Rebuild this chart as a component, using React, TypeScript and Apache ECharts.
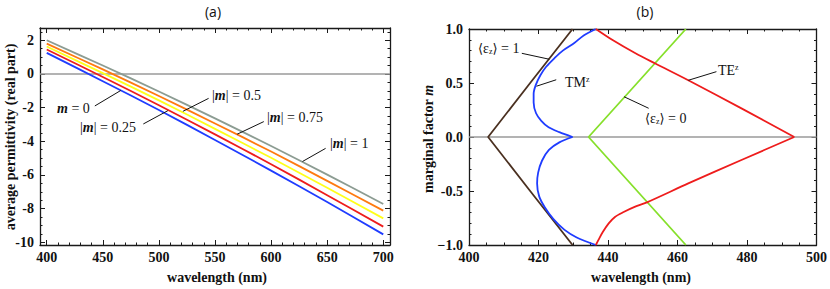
import React, { useEffect, useRef } from "react";
import * as echarts from "echarts";

// ---------- Panel (a) data ----------
const wavelengthsA = [400, 450, 500, 550, 600, 650, 700];
const epsM0 = [1.25, -0.43, -2.14, -3.92, -5.74, -7.61, -9.53];
const epsM025 = [1.45, -0.18, -1.86, -3.59, -5.36, -7.2, -9.07];
const epsM05 = [1.63, 0.05, -1.57, -3.26, -4.98, -6.76, -8.58];
const epsM075 = [1.8, 0.27, -1.31, -2.94, -4.61, -6.35, -8.12];
const epsM1 = [2.0, 0.5, -1.04, -2.64, -4.28, -5.98, -7.72];

const xTicksA = [400, 450, 500, 550, 600, 650, 700];
const yTicksA = [-10, -8, -6, -4, -2, 0, 2];

// ---------- Panel (b) data: [wavelength, m] ----------
const epsOneCurve = [[429.8, 1], [417.6, 0.5], [405.5, 0], [417.6, -0.5], [429.8, -1]];
const epsZeroCurve = [[462.4, 1], [448.4, 0.5], [434.4, 0], [448.4, -0.5], [462.4, -1]];
const tmUpper = [
  [436.5, 1], [433, 0.94], [430.3, 0.87], [427, 0.8], [424.6, 0.73], [422.2, 0.65],
  [420.5, 0.57], [419.2, 0.48], [418.6, 0.4], [418.6, 0.32], [419.3, 0.22], [420.8, 0.15],
  [422.9, 0.09], [426, 0.045], [429.8, 0],
];
const tmLower = [
  [429.8, 0], [426, -0.05], [423, -0.12], [421, -0.22], [419.9, -0.33], [419.6, -0.43],
  [420.2, -0.55], [421.8, -0.65], [424.3, -0.76], [427.5, -0.86], [431, -0.93], [436.5, -1],
];
const teUpper = [
  [436.5, 1], [441.2, 0.9], [447.9, 0.775], [453.6, 0.68], [463.1, 0.525], [478.4, 0.265], [493.6, 0],
];
const teLower = [
  [493.6, 0], [478.4, -0.213], [463.1, -0.43], [451.2, -0.605], [447.5, -0.65], [444.5, -0.695],
  [442, -0.74], [440.2, -0.8], [438.5, -0.88], [437.3, -0.95], [436.5, -1],
];

const xTicksB = [400, 420, 440, 460, 480, 500];
const yTicksB = [-1, -0.5, 0, 0.5, 1];
const yLabelsB = ["\u22121.0", "-0.5", "0.0", "0.5", "1.0"];

// leader lines (data coords)
const leadersA = [
  [[442.9, -1.9], [466, -0.98]],
  [[486.1, -2.97], [508, -2.18]],
  [[544.3, -1.45], [521.4, -2.22]],
  [[593.5, -2.83], [569.7, -3.58]],
  [[648.6, -4.42], [628, -5.2]],
];
const leadersB = [
  [[415.2, 0.775], [423.1, 0.72]],
  [[425.1, 0.53], [419.4, 0.47]],
  [[451.7, 0.266], [444.6, 0.373]],
  [[471.2, 0.605], [463.1, 0.525]],
];

const SERIF = "Liberation Serif";
const SANS = "Open Sans";
const FRAME = "#1a1a1a";

function minorBetween(majors: number[], step: number, lo: number, hi: number) {
  const out: number[] = [];
  const start = Math.ceil(lo / step) * step;
  for (let v = start; v <= hi + 1e-9; v += step) {
    const r = Math.round(v * 1000) / 1000;
    if (!majors.some((m) => Math.abs(m - r) < 1e-6)) out.push(r);
  }
  return out;
}

export default function App() {
  const ref = useRef<HTMLDivElement>(null);
  useEffect(() => {
    document.body.style.margin = "0";
    if (!ref.current) return;
    const chart = echarts.init(ref.current, undefined, { renderer: "svg" });

    const xMinA = 394, xMaxA = 706, yMinA = -10.16, yMaxA = 2.73;
    const xMinorA = minorBetween(xTicksA, 10, 400, 700);
    const yMinorA = minorBetween(yTicksA, 0.5, -10, 2.5);

    const labelStyle = { fontFamily: SERIF, fontSize: 14, fontWeight: "bold", color: "#111" };

    const mkX = (grid: number, pos: string, min: number, max: number, major: boolean, showLine: boolean, labels: boolean, ticks: number[]) => ({
      type: "value", gridIndex: grid, position: pos, min, max,
      axisLine: { show: showLine, onZero: false, lineStyle: { color: FRAME, width: 1.3 } },
      axisTick: { show: true, inside: true, length: major ? 5 : 2.5, customValues: ticks, lineStyle: { color: FRAME, width: 1 } },
      axisLabel: labels ? { show: true, customValues: ticks, margin: 5, ...labelStyle } : { show: false },
      splitLine: { show: false },
    });

    const xAxes: any[] = [
      mkX(0, "bottom", xMinA, xMaxA, true, true, true, xTicksA),
      mkX(0, "bottom", xMinA, xMaxA, false, false, false, xMinorA),
      mkX(0, "top", xMinA, xMaxA, true, true, false, xTicksA),
      mkX(0, "top", xMinA, xMaxA, false, false, false, xMinorA),
    ];
    const yAxes: any[] = [
      { ...mkX(0, "left", yMinA, yMaxA, true, true, true, yTicksA), axisLabel: { show: true, customValues: yTicksA, margin: 6, ...labelStyle, formatter: (v: number) => String(v) } },
      mkX(0, "left", yMinA, yMaxA, false, false, false, yMinorA),
      mkX(0, "right", yMinA, yMaxA, true, true, false, yTicksA),
      mkX(0, "right", yMinA, yMaxA, false, false, false, yMinorA),
    ];
    const mkB = (pos: string, min: number, max: number, interval: number, minorSplit: number, labels: any) => ({
      type: "value", gridIndex: 1, position: pos, min, max, interval,
      axisLine: { show: true, onZero: false, lineStyle: { color: FRAME, width: 1.3 } },
      axisTick: { show: true, inside: true, length: 5, lineStyle: { color: FRAME, width: 1 } },
      minorTick: { show: true, splitNumber: minorSplit, length: 2.5, lineStyle: { color: FRAME, width: 1 } },
      axisLabel: labels,
      splitLine: { show: false },
      minorSplitLine: { show: false },
    });
    xAxes.push(mkB("bottom", xTicksB[0], xTicksB[xTicksB.length - 1], 20, 4, { show: true, margin: 5, ...labelStyle }));
    xAxes.push(mkB("top", xTicksB[0], xTicksB[xTicksB.length - 1], 20, 4, { show: false }));
    yAxes.push(mkB("left", yTicksB[0], yTicksB[yTicksB.length - 1], 0.5, 5, {
      show: true, margin: 6, ...labelStyle,
      formatter: (v: number) => { const i = yTicksB.findIndex((t) => Math.abs(t - v) < 1e-6); return i >= 0 ? yLabelsB[i] : ""; },
    }));
    yAxes.push(mkB("right", yTicksB[0], yTicksB[yTicksB.length - 1], 0.5, 5, { show: false }));

    const lineA = (name: string, vals: number[], color: string) => ({
      type: "line", name, xAxisIndex: 0, yAxisIndex: 0, symbol: "none", smooth: 0.3, silent: true, z: 3,
      data: wavelengthsA.map((w, i) => [w, vals[i]]),
      lineStyle: { color, width: 1.8 },
    });
    const lineB = (name: string, data: number[][], color: string, smooth: number) => ({
      type: "line", name, xAxisIndex: 4, yAxisIndex: 4, symbol: "none", smooth, silent: true, z: 3,
      data, lineStyle: { color, width: 1.8 },
    });
    const leader = (pts: number[][], xi: number, yi: number) => ({
      type: "line", xAxisIndex: xi, yAxisIndex: yi, symbol: "none", silent: true, z: 4,
      data: pts, lineStyle: { color: "#111", width: 1 },
    });
    const zeroLine = (xi: number, yi: number, min: number, max: number) => ({
      type: "line", xAxisIndex: xi, yAxisIndex: yi, symbol: "none", silent: true, z: 2,
      data: [[min, 0], [max, 0]], lineStyle: { color: "#9a9a9a", width: 1.6 },
    });

    const series: any[] = [
      zeroLine(0, 0, xMinA, xMaxA),
      lineA("m=0", epsM0, "#1f3cff"),
      lineA("|m|=0.25", epsM025, "#ee1c1c"),
      lineA("|m|=0.5", epsM05, "#ffff1a"),
      lineA("|m|=0.75", epsM075, "#ff7a10"),
      lineA("|m|=1", epsM1, "#8c9c92"),
      ...leadersA.map((p) => leader(p, 0, 0)),
      zeroLine(4, 4, 400, 500),
      lineB("eps1", epsOneCurve, "#4a3020", 0),
      lineB("eps0", epsZeroCurve, "#86e02a", 0),
      lineB("TM up", tmUpper, "#1f3cff", 0.3),
      lineB("TM low", tmLower, "#1f3cff", 0.3),
      lineB("TE up", teUpper, "#ee1c1c", 0.3),
      lineB("TE low", teLower, "#ee1c1c", 0.3),
      ...leadersB.map((p) => leader(p, 4, 4)),
    ];

    const ann = { fontFamily: SERIF, fontSize: 14, fill: "#111" };
    const mRich = { n: { fontFamily: SERIF, fontSize: 14, fontStyle: "italic", fontWeight: "bold", fill: "#111" } };
    const subRich = {
      s: { fontFamily: SERIF, fontSize: 8, fill: "#111", verticalAlign: "bottom" },
      g: { fontFamily: "DejaVu Serif", fontSize: 13, fill: "#111" },
      p: { fontFamily: SERIF, fontSize: 8, fill: "#111", verticalAlign: "top" },
    };
    const txt = (x: number, y: number, text: string, rich: any, extra: any = {}) => ({
      type: "text", x, y, silent: true, z: 10,
      style: { ...ann, text, rich, textAlign: "left", textVerticalAlign: "middle", ...extra },
    });
    const boldLabel = { fontFamily: SERIF, fontSize: 14, fontWeight: "bold", fill: "#111", textAlign: "center", textVerticalAlign: "middle" };

    const graphic: any[] = [
      { type: "text", x: 213, y: 11, style: { text: "(a)", fontFamily: SANS, fontSize: 14, fill: "#111", textAlign: "center", textVerticalAlign: "middle" } },
      { type: "text", x: 645, y: 11, style: { text: "(b)", fontFamily: SANS, fontSize: 14, fill: "#111", textAlign: "center", textVerticalAlign: "middle" } },
      { type: "text", x: 217, y: 277, style: { text: "wavelength (nm)", ...boldLabel } },
      { type: "text", x: 641, y: 277, style: { text: "wavelength (nm)", ...boldLabel } },
      { type: "text", x: 10, y: 137, rotation: Math.PI / 2, style: { text: "average permittivity (real part)", ...boldLabel } },
      { type: "text", x: 428, y: 139, rotation: Math.PI / 2, style: { text: "marginal factor {n|m}", ...boldLabel, rich: mRich } },
      txt(57, 108, "{n|m} = 0", mRich),
      txt(80, 127, "|{n|m}| = 0.25", mRich),
      txt(212, 95, "|{n|m}| = 0.5", mRich),
      txt(267, 117, "|{n|m}| = 0.75", mRich),
      txt(330, 143, "|{n|m}| = 1", mRich),
      txt(478, 48, "{g|\u27E8}\u03B5{s|z}{g|\u27E9} = 1", subRich),
      txt(565, 82, "TM{p|z}", subRich),
      txt(645, 118, "{g|\u27E8}\u03B5{s|z}{g|\u27E9} = 0", subRich),
      txt(718, 70, "TE{p|z}", subRich),
    ];

    chart.setOption({
      animation: false,
      backgroundColor: "#ffffff",
      grid: [
        { left: 40, top: 28, width: 350, height: 217, containLabel: false },
        { left: 469, top: 29, width: 350, height: 216, containLabel: false },
      ],
      xAxis: xAxes,
      yAxis: yAxes,
      series,
      graphic,
    });
    return () => chart.dispose();
  }, []);
  return <div ref={ref} style={{ width: 830, height: 289 }} />;
}
